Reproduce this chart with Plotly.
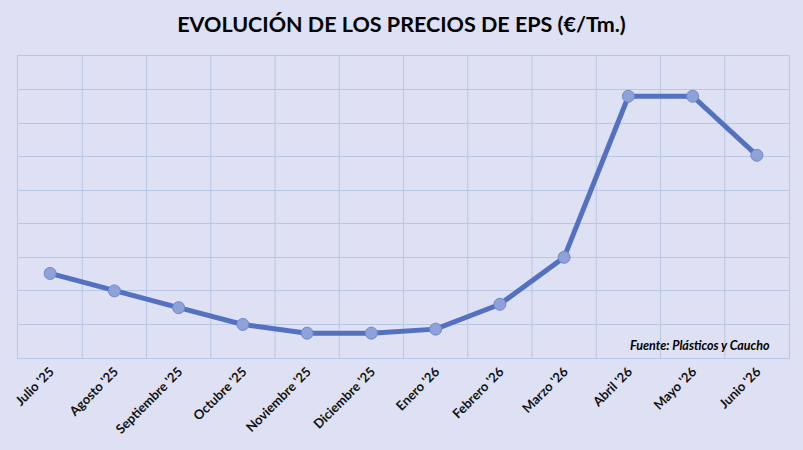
import plotly.graph_objects as go

# -------------------------------------------------------------------
# DATA
# -------------------------------------------------------------------
meses = [
    "Julio '25", "Agosto '25", "Septiembre '25", "Octubre '25",
    "Noviembre '25", "Diciembre '25", "Enero '26", "Febrero '26",
    "Marzo '26", "Abril '26", "Mayo '26", "Junio '26",
]
precios = [1226, 1200, 1175, 1150, 1137, 1137, 1143, 1180, 1250, 1490, 1490, 1402]

# -------------------------------------------------------------------
# STYLE
# -------------------------------------------------------------------
BG = "#dde1f3"
GRID = "#b9c6e4"
LINE = "#5470c0"
MARKER = "#8ea2d9"
FONT = "Lato"

fig = go.Figure()

fig.add_trace(
    go.Scatter(
        x=meses,
        y=precios,
        mode="lines+markers",
        line=dict(color=LINE, width=5),
        marker=dict(color=MARKER, size=12, line=dict(color="#7088cc", width=1)),
        showlegend=False,
    )
)

fig.update_layout(
    width=803,
    height=450,
    margin=dict(l=15, r=14, t=56, b=92),
    paper_bgcolor=BG,
    plot_bgcolor=BG,
    font=dict(family=FONT, color="#111111"),
    title=dict(
        text="<b>EVOLUCIÓN DE LOS PRECIOS DE EPS (€/Tm.)</b>",
        x=0.5,
        xanchor="center",
        y=0.945,
        yanchor="middle",
        font=dict(family=FONT, size=21.5, color="#000000"),
    ),
    xaxis=dict(
        type="category",
        showgrid=False,
        tickangle=-45,
        tickfont=dict(family=FONT, size=13, color="#111111"),
        tickprefix="<b>",
        ticksuffix="</b>",
        ticks="",
        showline=True,
        linecolor=GRID,
        mirror=True,
        range=[-0.5, len(meses) - 0.5],
    ),
    yaxis=dict(
        range=[1100, 1550],
        dtick=50,
        showticklabels=False,
        showgrid=True,
        gridcolor=GRID,
        gridwidth=1,
        zeroline=False,
        showline=True,
        linecolor=GRID,
        mirror=True,
    ),
)

# vertical gridlines between categories
for i in range(1, len(meses)):
    fig.add_shape(
        type="line",
        xref="x",
        yref="paper",
        x0=i - 0.5,
        x1=i - 0.5,
        y0=0,
        y1=1,
        line=dict(color=GRID, width=1),
        layer="below",
    )

fig.add_annotation(
    text="<b><i>Fuente: Plásticos y Caucho</i></b>",
    xref="paper",
    yref="paper",
    x=0.978,
    y=0.04,
    xanchor="right",
    yanchor="middle",
    showarrow=False,
    font=dict(family=FONT, size=12.5, color="#000000"),
)

fig.write_html(
    "out.html",
    config={"displayModeBar": False},
    post_script="document.body.style.margin='0';document.body.style.background='%s';" % BG,
)
